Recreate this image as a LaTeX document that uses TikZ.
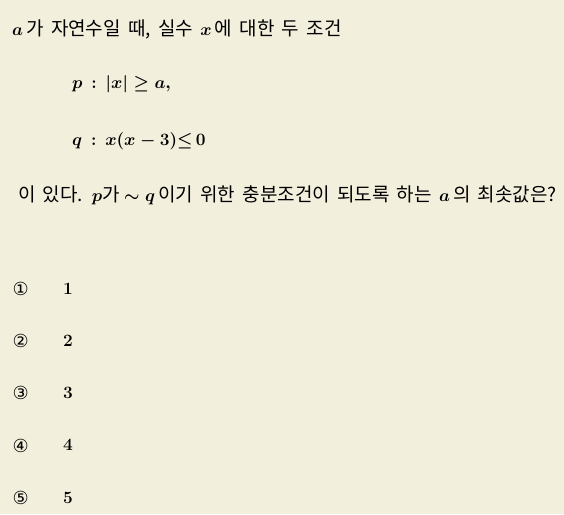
\documentclass[tikz,border=0pt]{standalone}
\usepackage{fontspec}
\newfontfamily\krfont[WordSpace=1.7]{Noto Sans CJK KR}
\newfontfamily\symfont{DejaVu Sans}
\newcommand\mth[1]{{\fontsize{18.5}{22}\selectfont\boldmath$#1$}}
\definecolor{bgcol}{RGB}{242,239,220}
\begin{document}
\begin{tikzpicture}[x=1pt,y=-1pt,
  txt/.style={anchor=base west,inner sep=0pt,font=\krfont\fontsize{19}{22}\selectfont},
  circ/.style={anchor=west,inner sep=0pt,font=\symfont\fontsize{18}{22}\selectfont},
  num/.style={anchor=base west,inner sep=0pt,font=\fontsize{18}{22}\selectfont\boldmath}]
\fill[bgcol] (0,0) rectangle (564,514);
\useasboundingbox (0,0) rectangle (564,514);
\node[txt] (l1) at (12,35.5) {\mth{a}\,가 자연수일 때, 실수 \mth{x}\,에 대한 두 조건};
\node[txt] (lp) at (72,88.5) {\mth{p\mskip8mu{:}\mskip8mu|x|\geq a,}};
\node[txt] (lq) at (72,145) {\mth{q\mskip8mu{:}\mskip8mu x(x-3){\leq}\, 0}};
\node[txt] (l4) at (18,201) {이 있다. \mth{p}가\mth{\mkern4mu\sim q}\,이기 위한 충분조건이 되도록 하는 \mth{a}\,의 최솟값은?};
\foreach \i/\c/\y in {1/①/289,2/②/341.2,3/③/393.4,4/④/445.6,5/⑤/497.8}{
  \node[circ] (c\i) at (12.5,\y) {\c};
  \node[num] (n\i) at (63,\y+5.3) {$\i$};
}
\end{tikzpicture}
\end{document}
